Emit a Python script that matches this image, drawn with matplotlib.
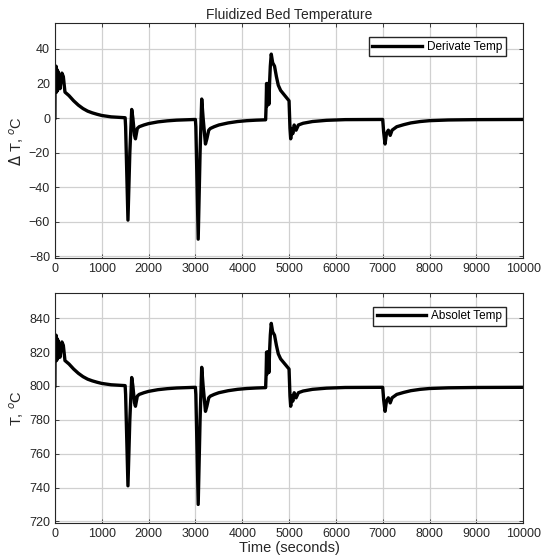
import numpy as np
import matplotlib.pyplot as plt

plt.rcParams['font.family'] = ['Liberation Sans', 'DejaVu Sans']

# time (s) and temperature deviation from set point (degC)
time_s = [0, 5, 15, 25, 35, 45, 55, 65, 75, 90, 110, 150, 180, 215, 300, 400, 500,
          600, 700, 800, 900, 1000, 1200, 1500,
          1510, 1560, 1600, 1640, 1665, 1700, 1720, 1760, 1800, 1900, 2000, 2200,
          2400, 2600, 2800, 3000,
          3010, 3060, 3100, 3135, 3165, 3215, 3245, 3285, 3320, 3400, 3500, 3700,
          3900, 4100, 4300, 4500,
          4510, 4520, 4530, 4540, 4550, 4560, 4570, 4585, 4600, 4620, 4650, 4690,
          4730, 4770, 4820, 4880, 4940, 5000,
          5020, 5035, 5055, 5080, 5110, 5150, 5200, 5300, 5500, 5800, 6200, 7000,
          7020, 7050, 7080, 7120, 7160, 7200, 7300, 7450, 7600, 7800, 8000, 8400,
          9000, 10000]

delta_T = [0, 30, 16, 30, 15, 28, 16, 27, 17, 24, 17, 26, 24, 15, 13, 10, 7.5,
           5.5, 4, 3, 2.2, 1.5, 0.7, 0.2,
           -5, -59, -20, 5, 0, -10, -12, -6, -5, -4, -3.2, -2.2,
           -1.6, -1.2, -1, -0.8,
           -5, -70, -20, 11, 0, -15, -12, -7, -6, -5, -4, -2.8,
           -2, -1.5, -1.2, -1,
           7, 20, 7, 20, 8, 20, 8, 21, 30, 37, 32, 30,
           24, 19, 16, 14, 12, 10,
           -6, -12, -6, -9, -4, -7, -4, -3, -2, -1.3, -0.9, -0.8,
           -8, -15, -9, -7, -10, -7, -5, -3.8, -2.8, -2, -1.5, -1.1,
           -0.9, -0.8]

# absolute bed temperature (degC)
abs_T = [800, 830, 816, 830, 815, 828, 816, 827, 817, 824, 817, 826, 824, 815, 813, 810, 807.5,
         805.5, 804, 803, 802.2, 801.5, 800.7, 800.2,
         795, 741, 780, 805, 800, 790, 788, 794, 795, 796, 796.8, 797.8,
         798.4, 798.8, 799, 799.2,
         795, 730, 780, 811, 800, 785, 788, 793, 794, 795, 796, 797.2,
         798, 798.5, 798.8, 799,
         807, 820, 807, 820, 808, 820, 808, 821, 830, 837, 832, 830,
         824, 819, 816, 814, 812, 810,
         794, 788, 794, 791, 796, 793, 796, 797, 798, 798.7, 799.1, 799.2,
         792, 785, 791, 793, 790, 793, 795, 796.2, 797.2, 798, 798.5, 798.9,
         799.1, 799.2]

fig = plt.figure(figsize=(5.49, 5.60), dpi=100)
ax1 = fig.add_axes([0.100, 0.539, 0.853, 0.420])
ax2 = fig.add_axes([0.100, 0.066, 0.853, 0.411])

edge = '#262626'
for ax in (ax1, ax2):
    ax.set_xlim(0, 10000)
    ax.set_xticks(np.arange(0, 10001, 1000))
    ax.grid(True, color='#d0d0d0', linewidth=0.9)
    ax.set_axisbelow(True)
    ax.tick_params(direction='in', top=True, right=True, labelsize=9,
                   colors=edge, length=3, width=0.6)
    for s in ax.spines.values():
        s.set_color(edge)
        s.set_linewidth(0.8)

legend_kw = dict(loc='upper right', fontsize=8.5, frameon=True, fancybox=False,
                 edgecolor=edge, framealpha=1, handlelength=4.2, borderpad=0.3,
                 handletextpad=0.4, bbox_to_anchor=(0.975, 0.965))

ax1.plot(time_s, delta_T, color='black', linewidth=2.4, label='Derivate Temp')
ax1.set_ylim(-81, 55)
ax1.set_yticks(np.arange(-80, 41, 20))
ax1.set_ylabel(r'$\Delta$ T, $^o$C', fontsize=10.5, color=edge, labelpad=2)
ax1.set_title('Fluidized Bed Temperature', fontsize=10, color=edge, pad=3)
ax1.legend(**legend_kw)

ax2.plot(time_s, abs_T, color='black', linewidth=2.4, label='Absolet Temp')
ax2.set_ylim(719, 855)
ax2.set_yticks(np.arange(720, 841, 20))
ax2.set_ylabel(r'T, $^o$C', fontsize=10.5, color=edge, labelpad=2)
ax2.set_xlabel('Time (seconds)', fontsize=10.5, color=edge, labelpad=1)
ax2.legend(**legend_kw)

fig.savefig('out.png', dpi=100)
